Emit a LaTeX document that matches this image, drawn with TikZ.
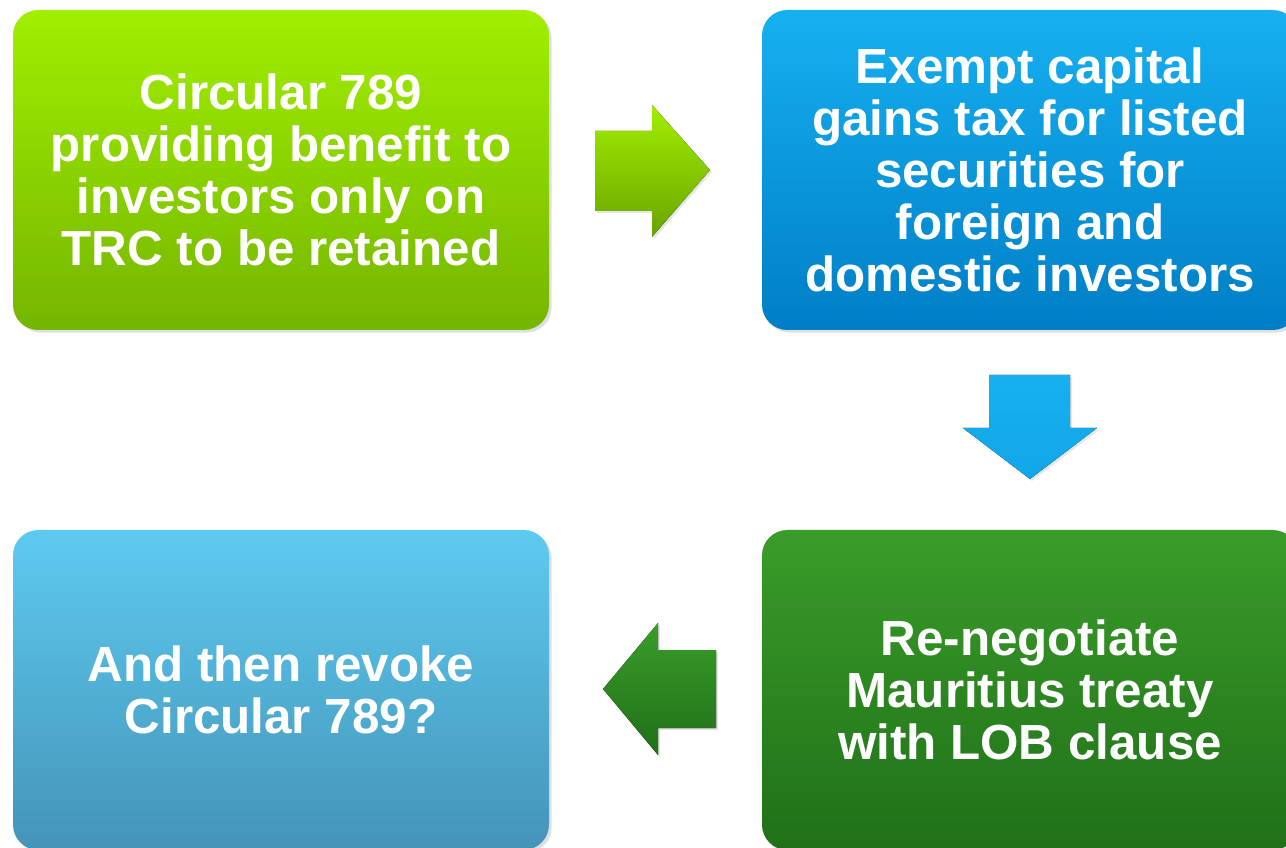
\documentclass[tikz,border=0pt]{standalone}
\usepackage{fontspec}
\setmainfont{Liberation Sans}
\usetikzlibrary{shadows}

\definecolor{limetop}{RGB}{162,238,0}
\definecolor{limebot}{RGB}{116,182,0}
\definecolor{skytop}{RGB}{22,176,240}
\definecolor{skybot}{RGB}{0,126,198}
\definecolor{leaftop}{RGB}{58,156,42}
\definecolor{leafbot}{RGB}{32,112,24}
\definecolor{palebluetop}{RGB}{94,202,240}
\definecolor{palebluebot}{RGB}{68,148,184}

\tikzset{
  stepbox/.style={rounded corners=19pt, minimum width=402pt, minimum height=240pt,
    inner sep=0pt, align=center, text=white,
    font=\fontsize{37}{39}\selectfont\bfseries,
    drop shadow={opacity=0.25, shadow xshift=2pt, shadow yshift=-2pt}},
  blockarrow/.style={drop shadow={opacity=0.2, shadow xshift=1.5pt, shadow yshift=-1.5pt}}
}

\begin{document}
\begin{tikzpicture}[x=0.75pt,y=-0.75pt]
\useasboundingbox (0,0) rectangle (1286,848);
\clip (0,0) rectangle (1286,848);
% the four steps
\node[stepbox, top color=limetop, bottom color=limebot] (circular) at (281,170)
  {Circular 789\\providing benefit to\\investors only on\\TRC to be retained};
\node[stepbox, top color=skytop, bottom color=skybot] (exempt) at (1030,170)
  {Exempt capital\\gains tax for listed\\securities for\\foreign and\\domestic investors};
\node[stepbox, top color=leaftop, bottom color=leafbot] (treaty) at (1030,690)
  {Re-negotiate\\Mauritius treaty\\with LOB clause};
\node[stepbox, top color=palebluetop, bottom color=palebluebot] (revoke) at (281,690)
  {And then revoke\\Circular 789?};
% block arrows between them
\fill[blockarrow, top color=limetop, bottom color=limebot!90!black]
  (595,131) -- (652,131) -- (652,105) -- (710,170)
  -- (652,237) -- (652,211) -- (595,211) -- cycle;
\fill[blockarrow, top color=skytop, bottom color=skytop!80!skybot]
  (989,375) -- (1070,375) -- (1070,428) -- (1097,428)
  -- (1030,479) -- (963,428) -- (989,428) -- cycle;
\fill[blockarrow, top color=leaftop, bottom color=leafbot]
  (716,650) -- (658,650) -- (658,623) -- (603,689)
  -- (658,755) -- (658,728) -- (716,728) -- cycle;
\end{tikzpicture}
\end{document}
